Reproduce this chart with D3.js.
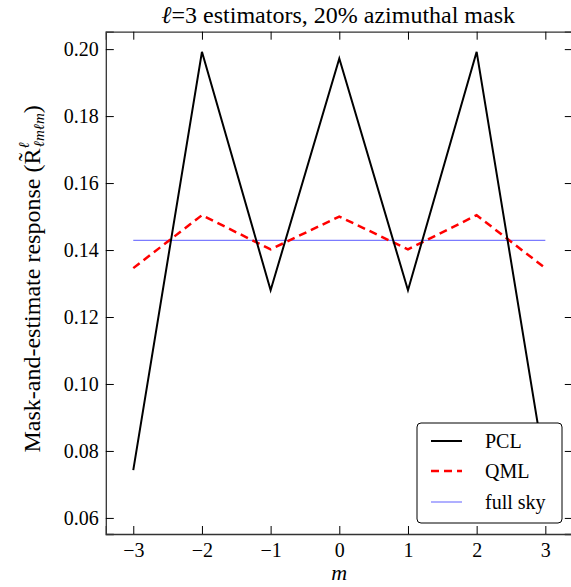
<!DOCTYPE html>
<html><head><meta charset="utf-8">
<script src="https://cdn.jsdelivr.net/npm/d3@7"></script>
</head>
<body style="margin:0"><svg id="c" width="571" height="587"></svg>
<script>
const mValues = [-3, -2, -1, 0, 1, 2, 3];
const pclValues = [0.0743, 0.1992, 0.1280, 0.1972, 0.1280, 0.1992, 0.0743];
const qmlValues = [0.1346, 0.1504, 0.1402, 0.1500, 0.1402, 0.1504, 0.1346];
const fullSkyValue = 0.142857;
const xTicks = [-3, -2, -1, 0, 1, 2, 3];
const yTicks = [0.06, 0.08, 0.10, 0.12, 0.14, 0.16, 0.18, 0.20];
const legendLabels = ["PCL", "QML", "full sky"];

const FF = "Tinos";
const svg = d3.select("#c");
const L = 105.8, R = 572.8, T = 31.7, B = 534;
const xs = d3.scaleLinear().domain([-3.4, 3.4]).range([L, R]);
const ys = d3.scaleLinear().domain([0.0552, 0.2052]).range([B, T]);

const tickLen = 8;
const fmtY = d3.format(".2f");
const fmtX = d => d < 0 ? "\u2212" + Math.abs(d) : String(d);

const gB = svg.append("g").attr("transform", `translate(0,${B})`)
  .call(d3.axisBottom(xs).tickValues(xTicks).tickSize(-tickLen).tickPadding(9).tickFormat(fmtX));
const gT = svg.append("g").attr("transform", `translate(0,${T})`)
  .call(d3.axisTop(xs).tickValues(xTicks).tickSize(-tickLen).tickFormat(""));
const gL = svg.append("g").attr("transform", `translate(${L},0)`)
  .call(d3.axisLeft(ys).tickValues(yTicks).tickSize(-tickLen).tickPadding(7).tickFormat(fmtY));
const gR = svg.append("g").attr("transform", `translate(${R},0)`)
  .call(d3.axisRight(ys).tickValues(yTicks).tickSize(-tickLen).tickFormat(""));
[gB, gT, gL, gR].forEach(g => {
  g.attr("font-family", FF).attr("font-size", 20);
  g.select(".domain").attr("stroke", "#333").attr("stroke-width", 1.3);
  g.selectAll(".tick line").attr("stroke", "#000").attr("stroke-width", 1);
  g.selectAll(".tick text").attr("fill", "#000").attr("font-family", FF).attr("font-size", 20);
});

const line = d3.line().x((d, i) => xs(mValues[i])).y(d => ys(d));
const plot = svg.append("g");
plot.append("line").attr("x1", xs(mValues[0])).attr("x2", xs(mValues[mValues.length-1]))
  .attr("y1", ys(fullSkyValue)).attr("y2", ys(fullSkyValue))
  .attr("stroke", "#7b7bff").attr("stroke-width", 1.2);
plot.append("path").datum(qmlValues).attr("d", line).attr("fill", "none")
  .attr("stroke", "#ff0000").attr("stroke-width", 2.5).attr("stroke-dasharray", "8,5");
plot.append("path").datum(pclValues).attr("d", line).attr("fill", "none")
  .attr("stroke", "#000").attr("stroke-width", 2);

const title = svg.append("text").attr("x", (L + R) / 2 - 1).attr("y", 23)
  .attr("text-anchor", "middle").attr("font-family", FF).attr("font-size", 24);
title.append("tspan").attr("font-style", "italic").text("\u2113");
title.append("tspan").text("=3 estimators, 20% azimuthal mask");

svg.append("text").attr("x", (L + R) / 2).attr("y", 580).attr("text-anchor", "middle")
  .attr("font-family", FF).attr("font-size", 22).attr("font-style", "italic").text("m");

const yl = svg.append("text").attr("transform", `translate(40,${(T + B) / 2 - 4}) rotate(-90)`)
  .attr("text-anchor", "middle").attr("font-family", FF).attr("font-size", 24);
yl.append("tspan").text("Mask-and-estimate response (R\u0303");
yl.append("tspan").attr("dy", -11).attr("font-size", 15).attr("font-style", "italic").text("\u2113");
yl.append("tspan").attr("dx", -5).attr("dy", 15).attr("font-size", 15).attr("font-style", "italic").text("\u2113m\u2113m");
yl.append("tspan").attr("dy", -4).text(")");

const lg = svg.append("g");
lg.append("rect").attr("x", 417).attr("y", 423).attr("width", 145).attr("height", 100)
  .attr("rx", 4).attr("fill", "#fff").attr("stroke", "#000").attr("stroke-width", 1);
const legendStyles = [
  {stroke: "#000", w: 2, dash: null},
  {stroke: "#ff0000", w: 2.5, dash: "8,5"},
  {stroke: "#7b7bff", w: 1.2, dash: null}
];
const ly = [441, 471, 502];
legendLabels.forEach((lab, i) => {
  lg.append("line").attr("x1", 431).attr("x2", 462).attr("y1", ly[i]).attr("y2", ly[i])
    .attr("stroke", legendStyles[i].stroke).attr("stroke-width", legendStyles[i].w)
    .attr("stroke-dasharray", legendStyles[i].dash);
  lg.append("text").attr("x", 485).attr("y", ly[i] + 7).attr("font-family", FF)
    .attr("font-size", 20).text(lab);
});
</script></body></html>
